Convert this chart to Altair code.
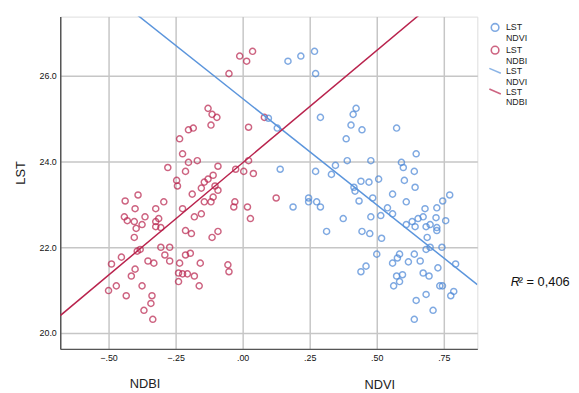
import altair as alt
import pandas as pd

# ---- data ----
ndbi_x = [-0.051, -0.011, 0.015, 0.037, 0.081, -0.129, -0.114, -0.096, -0.118, 0.022,
          -0.202, -0.184, -0.235, -0.224, -0.202, -0.169, -0.279, -0.213, -0.246, -0.243,
          -0.092, -0.110, -0.129, -0.143, -0.154, -0.103, -0.092, -0.188, -0.026, 0.004,
          0.022, 0.040, 0.125, -0.390, -0.438, -0.294, -0.029, 0.018, 0.029, -0.401,
          -0.324, -0.441, -0.430, -0.404, -0.364, -0.313, -0.324, -0.324, -0.305, -0.375,
          -0.397, -0.404, -0.224, -0.180, -0.154, -0.143, -0.118, -0.110, -0.033, -0.213,
          -0.191, -0.092, -0.114, -0.382, -0.305, -0.272, -0.290, -0.272, -0.213, -0.195,
          -0.235, -0.452, -0.489, -0.353, -0.331, -0.158, -0.401, -0.415, -0.239, -0.224,
          -0.206, -0.180, -0.055, -0.051, -0.239, -0.162, -0.375, -0.471, -0.500, -0.434,
          -0.338, -0.342, -0.368, -0.335, -0.393]
ndbi_lst = [26.05, 26.46, 26.34, 26.57, 25.03, 25.24, 25.10, 25.03, 24.85, 24.80,
            24.74, 24.78, 24.53, 24.18, 23.98, 24.02, 23.86, 23.77, 23.56, 23.43,
            23.89, 23.68, 23.59, 23.52, 23.38, 23.43, 23.33, 23.24, 23.82, 23.77,
            24.02, 23.72, 23.15, 23.22, 23.08, 23.06, 23.06, 22.94, 22.67, 22.90,
            22.90, 22.71, 22.62, 22.60, 22.71, 22.67, 22.60, 22.48, 22.46, 22.53,
            22.44, 22.23, 22.90, 22.71, 22.78, 23.06, 23.06, 23.17, 22.94, 22.39,
            22.32, 22.37, 22.23, 21.95, 22.00, 22.00, 21.82, 21.68, 21.82, 21.86,
            21.63, 21.77, 21.61, 21.68, 21.63, 21.63, 21.49, 21.33, 21.40, 21.38,
            21.38, 21.33, 21.59, 21.43, 21.20, 21.10, 21.10, 21.10, 20.99, 20.87,
            20.87, 20.69, 20.53, 20.32, 21.91]

ndvi_x = [0.169, 0.217, 0.268, 0.272, 0.096, 0.129, 0.290, 0.423, 0.412, 0.404,
          0.445, 0.386, 0.574, 0.390, 0.478, 0.346, 0.140, 0.272, 0.331, 0.592,
          0.599, 0.647, 0.640, 0.603, 0.643, 0.507, 0.471, 0.441, 0.415, 0.419,
          0.559, 0.772, 0.746, 0.485, 0.246, 0.246, 0.434, 0.610, 0.276, 0.290,
          0.188, 0.375, 0.313, 0.540, 0.559, 0.478, 0.515, 0.445, 0.474, 0.518,
          0.680, 0.724, 0.757, 0.610, 0.632, 0.643, 0.654, 0.673, 0.684, 0.699,
          0.721, 0.724, 0.724, 0.688, 0.699, 0.684, 0.743, 0.794, 0.500, 0.585,
          0.577, 0.559, 0.618, 0.640, 0.662, 0.728, 0.673, 0.695, 0.574, 0.596,
          0.585, 0.563, 0.735, 0.745, 0.787, 0.776, 0.684, 0.460, 0.441, 0.647,
          0.710, 0.640]
ndvi_lst = [26.34, 26.46, 26.57, 26.05, 25.01, 24.78, 25.03, 25.24, 25.10, 24.85,
            24.74, 24.53, 24.78, 24.02, 24.02, 23.91, 23.82, 23.77, 23.70, 23.98,
            23.86, 24.18, 23.77, 23.56, 23.40, 23.59, 23.52, 23.54, 23.40, 23.31,
            23.24, 23.22, 23.08, 23.15, 23.15, 23.06, 23.08, 23.06, 23.06, 22.94,
            22.94, 22.67, 22.37, 22.92, 22.78, 22.71, 22.74, 22.37, 22.32, 22.21,
            22.90, 22.92, 22.62, 22.53, 22.60, 22.48, 22.67, 22.71, 22.48, 22.53,
            22.69, 22.46, 22.39, 22.23, 22.00, 21.95, 22.00, 21.61, 21.84, 21.84,
            21.75, 21.63, 21.66, 21.84, 21.68, 21.52, 21.40, 21.33, 21.33, 21.36,
            21.20, 21.10, 21.10, 21.10, 20.97, 20.87, 20.90, 21.56, 21.43, 20.76,
            20.53, 20.32]

# fitted lines: (intercept, slope)
fit_ndvi = (25.47, -4.96)
fit_ndbi = (23.97, 5.24)

x_ticks = [-0.5, -0.25, 0.0, 0.25, 0.5, 0.75]
y_ticks = [20, 22, 24, 26]
x_domain = [-0.68, 0.875]
y_domain = [19.63, 27.38]

series_domain = ["NDVI_pt", "NDBI_pt", "NDVI_fit", "NDBI_fit"]
series_colors = ["#4a86d6", "#b9234d", "#5b95dc", "#b9234d"]
line_path = "M-1.5,-0.65L1.5,0.65"
series_shapes = ["circle", "circle", line_path, line_path]

x_titles = ["NDBI", "NDVI"]
r2_text = "² = 0,406"

# ---- tables ----
pts = pd.concat([
    pd.DataFrame({"x": ndbi_x, "y": ndbi_lst, "series": "NDBI_pt"}),
    pd.DataFrame({"x": ndvi_x, "y": ndvi_lst, "series": "NDVI_pt"}),
])
rows = []
for name, (a, b) in [("NDVI_fit", fit_ndvi), ("NDBI_fit", fit_ndbi)]:
    for xv in x_domain:
        rows.append({"x": xv, "y": a + b * xv, "series": name})
lines = pd.DataFrame(rows)

FONT = "Liberation Sans"

legend = alt.Legend(
    title=None, orient="none", legendX=436, legendY=6,
    labelExpr="['LST', '   ' + (indexof(datum.label, 'NDVI') >= 0 ? 'NDVI' : 'NDBI')]",
    labelFontSize=9, labelColor="#222", labelFont=FONT,
    symbolSize=60, symbolStrokeWidth=1.6, rowPadding=-1, labelOffset=6,
    padding=0,
)

xs = alt.Scale(domain=x_domain, nice=False, zero=False)
ys = alt.Scale(domain=y_domain, nice=False, zero=False)

x_axis = alt.Axis(values=x_ticks, title=None, ticks=False,
                  labelExpr="replace(format(datum.value, '.2f'), '0.', '.')",
                  labelFontSize=9, labelColor="#111", labelPadding=5, labelFont=FONT,
                  grid=True, gridColor="#c6c6c6", gridWidth=1.5,
                  domainColor="#555", domainWidth=1.5)
y_axis = alt.Axis(values=y_ticks, format=".1f", title="LST", ticks=False,
                  labelFontSize=9, labelColor="#111", labelPadding=4, labelFont=FONT,
                  titleFontSize=13, titleFont=FONT, titleColor="#222", titleFontWeight="normal",
                  titleX=-40, titleY=158, titleBaseline="middle",
                  grid=True, gridColor="#c6c6c6", gridWidth=1.5,
                  domainColor="#555", domainWidth=1.5)

points = alt.Chart(pts).mark_point(filled=False, size=38, strokeWidth=1.5).encode(
    x=alt.X("x:Q", scale=xs, axis=x_axis),
    y=alt.Y("y:Q", scale=ys, axis=y_axis),
    color=alt.Color("series:N", scale=alt.Scale(domain=series_domain, range=series_colors), legend=legend),
    shape=alt.Shape("series:N", scale=alt.Scale(domain=series_domain, range=series_shapes), legend=legend),
)

fit = alt.Chart(lines).mark_line(clip=True, strokeWidth=1.5).encode(
    x=alt.X("x:Q", scale=xs),
    y=alt.Y("y:Q", scale=ys),
    color=alt.Color("series:N", legend=None),
)

t1 = alt.Chart(pd.DataFrame({"t": [x_titles[0]]})).mark_text(
    fontSize=13, font=FONT, color="#222", align="center", baseline="middle"
).encode(text="t:N", x=alt.value(86), y=alt.value(373))
t2 = alt.Chart(pd.DataFrame({"t": [x_titles[1]]})).mark_text(
    fontSize=13, font=FONT, color="#222", align="center", baseline="middle"
).encode(text="t:N", x=alt.value(324), y=alt.value(374))
r_italic = alt.Chart(pd.DataFrame({"t": ["R"]})).mark_text(
    fontSize=13, font=FONT, color="#111", align="left", baseline="middle", fontStyle="italic"
).encode(text="t:N", x=alt.value(457), y=alt.value(269))
r_rest = alt.Chart(pd.DataFrame({"t": [r2_text]})).mark_text(
    fontSize=13, font=FONT, color="#111", align="left", baseline="middle"
).encode(text="t:N", x=alt.value(465), y=alt.value(269))

chart = alt.layer(points, fit, t1, t2, r_italic, r_rest).properties(
    width=423, height=337,
    autosize=alt.AutoSizeParams(type="none"),
    padding={"left": 53, "top": 6, "right": 95, "bottom": 42},
).configure_view(stroke=None).configure(background="white")

chart.save("out.html", embed_options={"renderer": "svg", "actions": False})
